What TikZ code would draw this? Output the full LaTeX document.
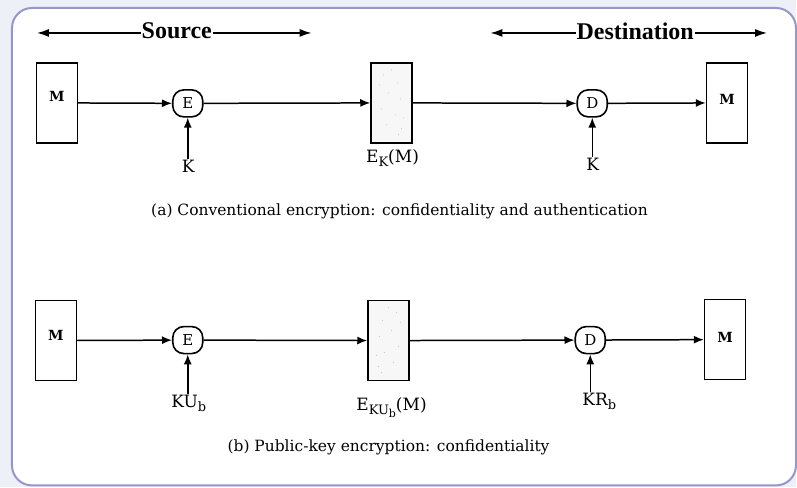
\documentclass[tikz,border=0pt]{standalone}
\usepackage{fontspec}
\setmainfont{Liberation Serif}
\newfontfamily\labelfont{DejaVu Serif}
\usetikzlibrary{arrows.meta,calc}
\newcommand{\lowsub}[1]{\raisebox{-0.45ex}{\fontsize{13}{13}\selectfont #1}}
\newcommand{\tinysub}[1]{\raisebox{-0.4ex}{\fontsize{11}{11}\selectfont #1}}
\tikzset{
  msgbox/.style={draw, line width=1.6pt, minimum width=41pt, minimum height=80pt, inner sep=0pt},
  cipherbox/.style={msgbox, fill=gray!6},
  op/.style={draw, line width=1.6pt, rounded corners=11pt, minimum width=30pt, minimum height=27pt, inner sep=0pt, font=\labelfont\fontsize{15}{15}\selectfont},
  flow/.style={line width=1.5pt, -{Latex[length=10pt,width=8pt]}},
  keyarrow/.style={line width=1.5pt, -{Latex[length=10pt,width=8pt]}},
  lbl/.style={font=\labelfont\fontsize{17}{17}\selectfont, inner sep=1pt},
  mlbl/.style={font=\labelfont\fontsize{14}{14}\selectfont\bfseries},
  captext/.style={font=\labelfont\fontsize{15.5}{15.5}\selectfont},
  banner/.style={font=\fontsize{24}{24}\selectfont\bfseries, fill=white, inner sep=1pt},
  speck/.style={fill=gray!45},
}
\begin{document}
\begin{tikzpicture}[x=1pt,y=-1pt]
  % page background and frame
  \fill[fill={rgb,255:red,238;green,240;blue,247}] (0,0) rectangle (797,488);
  \draw[line width=2pt, draw={rgb,255:red,150;green,150;blue,205}, fill=white, rounded corners=20pt]
    (12,8) rectangle (797,486);
  \useasboundingbox (0,0) rectangle (797,488);

  % Source / Destination spans
  \coordinate (srcL) at (37,33);
  \coordinate (srcR) at (312,33);
  \coordinate (dstL) at (491,33);
  \coordinate (dstR) at (768,33);
  \draw[line width=1.5pt, {Latex[length=12pt,width=8pt]}-{Latex[length=12pt,width=8pt]}] (srcL) -- (srcR);
  \draw[line width=1.5pt, {Latex[length=12pt,width=8pt]}-{Latex[length=12pt,width=8pt]}] (dstL) -- (dstR);
  \node[banner] (src) at (177,31) {Source};
  \node[banner] (dst) at (636,31) {Destination};

  % (a) conventional encryption
  \node[msgbox] (ma) at (57,103) {};
  \node[mlbl] at (57,97) {M};
  \node[op] (ea) at (188,103.5) {E};
  \node[cipherbox] (ca) at (392,103) {};
  \node[op] (da) at (593,103.5) {D};
  \node[msgbox] (mra) at (728,103) {};
  \node[mlbl] at (728,100) {M};
  \node[lbl] (ka) at (188.5,167) {K};
  \node[lbl] (kda) at (593.5,165) {K};
  \node[lbl] (cla) at (393,158) {E\lowsub{K}(M)};
  \draw[flow] (ma) -- (ea);
  \draw[flow] (ea) -- (ca);
  \draw[flow] (ca) -- (da);
  \draw[flow] (da) -- (mra);
  \draw[keyarrow] (ka.north -| ea) -- (ea);
  \draw[keyarrow] (kda.north -| da) -- (da);
  \node[captext] (capa) at (400,212) {(a) Conventional encryption: confidentiality and authentication};

  % (b) public-key encryption
  \node[msgbox] (mb) at (56,341) {};
  \node[mlbl] at (56,336) {M};
  \node[op] (eb) at (188,340.5) {E};
  \node[cipherbox] (cb) at (389,341) {};
  \node[op] (db) at (591,340.5) {D};
  \node[msgbox] (mrb) at (726,340) {};
  \node[mlbl] at (726,338) {M};
  \node[lbl] (kb) at (189,404) {KU\lowsub{b}};
  \node[lbl] (kdb) at (600,402) {KR\lowsub{b}};
  \node[lbl] (clb) at (392,408) {E\lowsub{KU\tinysub{b}}(M)};
  \draw[flow] (mb) -- (eb);
  \draw[flow] (eb) -- (cb);
  \draw[flow] (cb) -- (db);
  \draw[flow] (db) -- (mrb);
  \draw[keyarrow] (kb.north -| eb) -- (eb);
  \draw[keyarrow] (kdb.north -| db) -- (db);
  \node[captext] (capb) at (389,448) {(b) Public-key encryption: confidentiality};

  % faint speckle inside the ciphertext blocks
  \foreach \dx/\dy in {-8/-28, 6/-20, -3/-10, 9/-4, -10/6, 4/12, -5/22, 10/26, 0/-33, 12/15, -12/-18, 7/32}{
    \fill[speck] ($(ca)+(\dx,\dy)$) circle (0.6pt);
    \fill[speck] ($(cb)+(-\dx,\dy)$) circle (0.6pt);
  }
\end{tikzpicture}
\end{document}
